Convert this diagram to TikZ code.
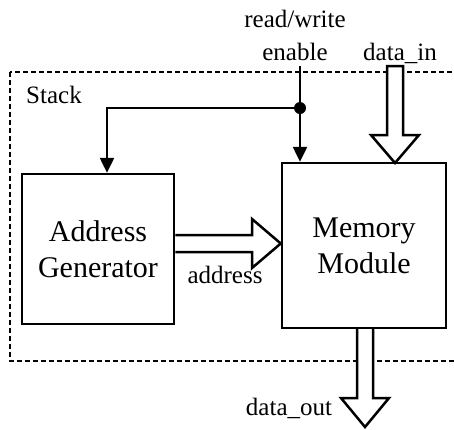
\documentclass[tikz,border=0pt]{standalone}
\usepackage{fontspec}
\setmainfont{Liberation Serif}
\usetikzlibrary{arrows.meta}
\begin{document}
\begin{tikzpicture}[x=1pt,y=-1pt,
  blockbox/.style={draw,line width=2.5pt,minimum width=#1,inner sep=0pt,align=center,font=\fontsize{30}{36}\selectfont},
  lbl/.style={inner sep=0pt,anchor=base,font=\fontsize{25}{33}\selectfont},
  wire/.style={line width=2.5pt},
  wirearrow/.style={wire,-{Triangle[length=15pt,width=14pt]}},
  bigarrow/.style={draw,fill=white,line width=2.5pt,line join=miter},
  stackbox/.style={draw,line width=1.3pt,dash pattern=on 5pt off 3pt}]
\useasboundingbox (0,0) rectangle (454,429);
\begin{scope}
\clip (0,0) rectangle (454,429);
\draw[stackbox] (10,72) rectangle (470,361);
\end{scope}
\node[lbl,anchor=base west] (stack) at (26,103) {Stack};
\node[blockbox=152pt,minimum height=150pt] (ag) at (98,249) {Address\\Generator};
\node[blockbox=164pt,minimum height=165pt] (mm) at (364,245.5) {Memory\\Module};
\node[lbl] (rw) at (295,27) {read/write};
\node[lbl] (en) at (295,60) {enable};
\node[lbl] (din) at (400,60) {data\_in};
\node[lbl] (addr) at (225,283) {address};
\node[lbl] (dout) at (289,415) {data\_out};
\coordinate (rwtop) at (300,66);
\coordinate (dot) at (300,108);
\fill (dot) circle (6pt);
\draw[wirearrow] (rwtop) -- (dot) -- (mm.north -| dot);
\draw[wirearrow] (dot) -- (107,108) -- (ag.north -| 107,0);
% address block arrow
\draw[bigarrow] (ag.east |- 0,235) -- (252,235) -- (252,219) -- (mm.west |- 0,243.5) -- (252,268) -- (252,252) -- (ag.east |- 0,252);
% data_in block arrow
\draw[bigarrow] (387,135) -- (387,66) -- (403,66) -- (403,135) -- (419,135) -- (395,163) -- (371,135) -- cycle;
% data_out block arrow
\draw[bigarrow] (357,329) -- (357,398) -- (341,398) -- (365,427) -- (389,398) -- (373,398) -- (373,329);
\end{tikzpicture}
\end{document}
